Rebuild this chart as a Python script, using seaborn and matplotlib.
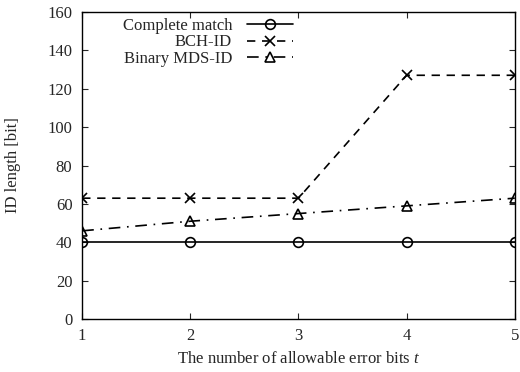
import matplotlib
matplotlib.use("Agg")
import matplotlib.pyplot as plt
import seaborn as sns
import pandas as pd

t_bits = [1, 2, 3, 4, 5]
complete_match = [40, 40, 40, 40, 40]
bch_id = [63, 63, 63, 127, 127]
mds_id = [46, 51, 55, 59, 63]
series_labels = ["Complete match", "BCH-ID", "Binary MDS-ID"]

sns.set_style("ticks")
plt.rcParams["font.family"] = ["Liberation Serif", "DejaVu Serif"]
plt.rcParams["mathtext.fontset"] = "custom"
plt.rcParams["mathtext.it"] = "Liberation Serif:italic"
plt.rcParams["mathtext.rm"] = "Liberation Serif"

FS = 12
fig = plt.figure(figsize=(5.2, 3.72), dpi=100)
ax = fig.add_axes([0.158, 0.142, 0.832, 0.826])

styles = [
    dict(marker="o", linestyle="-", ms=7),
    dict(marker="x", linestyle=(0, (5, 4)), ms=7),
    dict(marker="^", linestyle=(0, (7, 4, 1, 4)), ms=7),
]
for vals, lab, st in zip([complete_match, bch_id, mds_id], series_labels, styles):
    df = pd.DataFrame({"t": t_bits, "len": vals})
    sns.lineplot(data=df, x="t", y="len", ax=ax, color="black", label=lab,
                 marker=st["marker"], linestyle=st["linestyle"], markersize=st["ms"],
                 markerfacecolor="none", markeredgecolor="black", markeredgewidth=1.2,
                 linewidth=1.2)

ax.set_xlim(1, 5)
ax.set_ylim(0, 160)
ax.set_xticks(t_bits)
ax.set_yticks(range(0, 161, 20))
ax.tick_params(direction="in", top=True, right=True, labelsize=FS, length=4, width=0.8)
ax.tick_params(axis="x", pad=6)
ax.tick_params(axis="y", pad=7)
for s in ax.spines.values():
    s.set_linewidth(1.0)
    s.set_color("black")
ax.set_xlabel("The number of allowable error bits $t$", fontsize=FS)
ax.set_ylabel("ID length [bit]", fontsize=FS)
ax.xaxis.set_label_coords(0.5, -0.102)
ax.yaxis.set_label_coords(-0.142, 0.5)

leg = ax.legend(loc="upper right", bbox_to_anchor=(0.487, 0.98), frameon=False,
                markerfirst=False, fontsize=FS, handlelength=2.75, handletextpad=0.9,
                labelspacing=0.02, borderaxespad=0.0, borderpad=0.0)

fig.savefig("out.png", dpi=100)
